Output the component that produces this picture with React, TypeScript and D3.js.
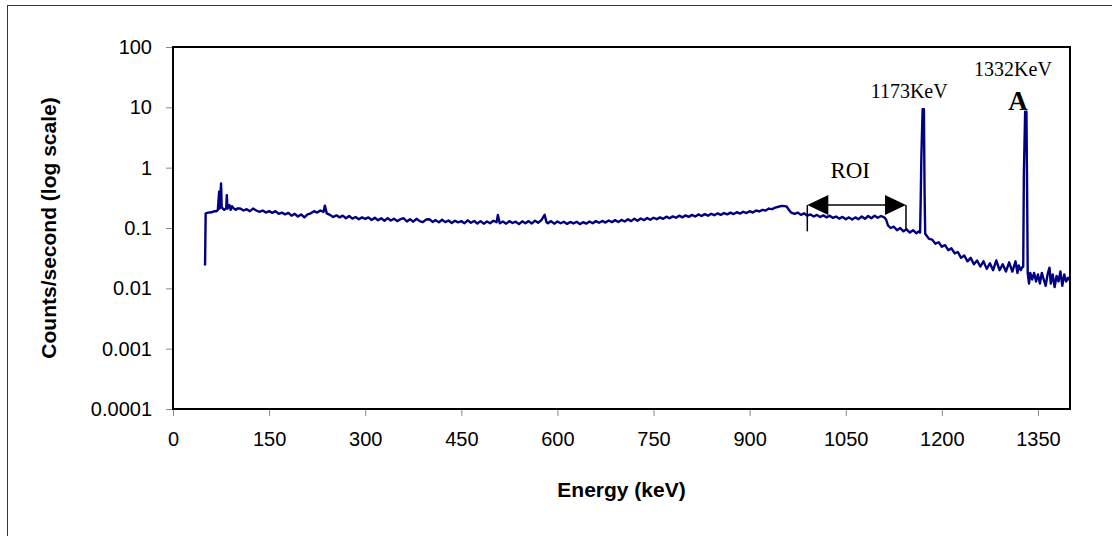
import React, { useRef, useEffect } from "react";
import * as d3 from "d3";

// energy (keV) of each spectrum point
const energy = [
  50, 51, 55, 60, 65, 68, 70, 72, 73, 75, 76, 78, 80, 83, 84, 85, 88, 90, 92, 95, 98, 100,
  105, 110, 115, 120, 125, 130, 135, 140, 145, 150, 155, 160, 165, 170, 175, 180, 185, 190, 195, 200,
  205, 210, 215, 220, 225, 230, 235, 237, 240, 245, 250, 255, 260, 265, 270, 275, 280, 285, 290, 295, 300,
  305, 310, 315, 320, 325, 330, 335, 340, 345, 350, 355, 360, 365, 370, 375, 380, 385, 390, 395, 400,
  405, 410, 415, 420, 425, 430, 435, 440, 445, 450, 455, 460, 465, 470, 475, 480, 485, 490, 495, 500,
  505, 507, 510, 515, 520, 525, 530, 535, 540, 545, 550, 555, 560, 565, 570, 575, 580, 583, 585, 590, 595, 600,
  605, 610, 615, 620, 625, 630, 635, 640, 645, 650, 655, 660, 665, 670, 675, 680, 685, 690, 695, 700,
  705, 710, 715, 720, 725, 730, 735, 740, 745, 750, 755, 760, 765, 770, 775, 780, 785, 790, 795, 800,
  805, 810, 815, 820, 825, 830, 835, 840, 845, 850, 855, 860, 865, 870, 875, 880, 885, 890, 895, 900,
  905, 910, 915, 920, 925, 930, 935, 940, 945, 950, 955, 958, 962, 965,
  970, 975, 980, 985, 990, 995, 1000, 1005, 1010, 1015, 1020, 1025, 1030, 1035, 1040, 1045, 1050,
  1055, 1060, 1065, 1070, 1075, 1080, 1085, 1090, 1095, 1100, 1105, 1110, 1113, 1116, 1120, 1125,
  1130, 1135, 1140, 1145, 1150, 1155, 1160, 1164, 1166, 1167, 1168, 1170, 1172, 1173, 1174, 1176, 1180,
  1185, 1190, 1195, 1200, 1205, 1210, 1215, 1220, 1225, 1230, 1235, 1240, 1245, 1250, 1255, 1260,
  1265, 1270, 1275, 1280, 1285, 1290, 1295, 1300, 1305, 1310, 1315, 1318, 1320, 1323, 1325, 1327,
  1328, 1330, 1332, 1333, 1334, 1336, 1338, 1341, 1344, 1347, 1350, 1353, 1356, 1359, 1362, 1365,
  1368, 1370, 1373, 1376, 1379, 1382, 1385, 1388, 1391, 1394, 1397, 1400
];

// counts per second at each energy
const counts = [
  0.024, 0.175, 0.18, 0.182, 0.19, 0.19, 0.2, 0.4, 0.21, 0.55, 0.22, 0.21, 0.2, 0.21, 0.35, 0.21, 0.24, 0.2, 0.23, 0.21, 0.2, 0.21,
  0.21, 0.195, 0.205, 0.19, 0.21, 0.195, 0.185, 0.195, 0.18, 0.19, 0.178, 0.19, 0.172, 0.18, 0.168, 0.178, 0.16, 0.172, 0.155, 0.168,
  0.15, 0.168, 0.175, 0.19, 0.18, 0.195, 0.185, 0.235, 0.175, 0.165, 0.152, 0.162, 0.15, 0.16, 0.145, 0.158, 0.143, 0.152, 0.14, 0.15, 0.142,
  0.15, 0.136, 0.148, 0.134, 0.145, 0.132, 0.146, 0.133, 0.142, 0.13, 0.14, 0.145, 0.128, 0.14, 0.127, 0.142, 0.13, 0.125, 0.138, 0.14,
  0.126, 0.135, 0.124, 0.137, 0.125, 0.133, 0.121, 0.132, 0.124, 0.13, 0.12, 0.134, 0.122, 0.131, 0.119, 0.13, 0.118, 0.128, 0.12, 0.132,
  0.125, 0.165, 0.12, 0.128, 0.118, 0.13, 0.121, 0.127, 0.116, 0.129, 0.12, 0.13, 0.119, 0.132, 0.122, 0.135, 0.165, 0.124, 0.12, 0.13, 0.118, 0.128,
  0.12, 0.127, 0.117, 0.126, 0.119, 0.127, 0.116, 0.125, 0.118, 0.128, 0.12, 0.13, 0.122, 0.131, 0.123, 0.133, 0.125, 0.135, 0.126, 0.136,
  0.128, 0.14, 0.13, 0.142, 0.132, 0.144, 0.135, 0.146, 0.137, 0.148, 0.14, 0.15, 0.142, 0.154, 0.145, 0.156, 0.148, 0.16, 0.15, 0.162,
  0.153, 0.165, 0.155, 0.168, 0.158, 0.17, 0.16, 0.172, 0.163, 0.175, 0.165, 0.177, 0.168, 0.18, 0.17, 0.183, 0.173, 0.186, 0.177, 0.19,
  0.18, 0.195, 0.188, 0.2, 0.195, 0.21, 0.205, 0.218, 0.225, 0.232, 0.23, 0.225, 0.195, 0.18,
  0.172, 0.18, 0.165, 0.175, 0.16, 0.168, 0.155, 0.165, 0.152, 0.162, 0.15, 0.16, 0.147, 0.155, 0.143, 0.153, 0.14,
  0.15, 0.138, 0.15, 0.14, 0.155, 0.142, 0.158, 0.145, 0.16, 0.148, 0.158, 0.15, 0.138, 0.11, 0.1, 0.105,
  0.092, 0.1, 0.088, 0.095, 0.084, 0.092, 0.082, 0.088, 0.084, 0.3, 1.5, 9.3, 9.3, 0.4, 0.08, 0.075, 0.066,
  0.064, 0.055, 0.058, 0.049, 0.052, 0.043, 0.046, 0.038, 0.04, 0.032, 0.035, 0.028, 0.032, 0.025, 0.029, 0.023,
  0.028, 0.021, 0.026, 0.02, 0.029, 0.02, 0.025, 0.019, 0.027, 0.019, 0.028, 0.018, 0.024, 0.02, 0.022, 0.023,
  0.8, 8.5, 8.5, 0.5, 0.018, 0.012, 0.018, 0.014, 0.018, 0.013, 0.017, 0.012, 0.018, 0.014, 0.011, 0.017,
  0.022, 0.012, 0.017, 0.0105, 0.016, 0.013, 0.019, 0.011, 0.017, 0.013, 0.015, 0.0135
];

const xTicks = [0, 150, 300, 450, 600, 750, 900, 1050, 1200, 1350];
const yTicks = [0.0001, 0.001, 0.01, 0.1, 1, 10, 100];
const yTickLabels = ["0.0001", "0.001", "0.01", "0.1", "1", "10", "100"];

// ROI bracket (keV) and peak labels
const roiRange = [990, 1144];
const peakLabels = [
  { text: "1173KeV", e: 1149, v: 14.3 },
  { text: "1332KeV", e: 1311, v: 33 },
];

const W = 1112;
const H = 536;
const margin = { top: 47, right: 42, bottom: 127, left: 173 };
const sans = "'Liberation Sans', Arial, sans-serif";
const serif = "'Liberation Serif', 'Times New Roman', serif";

function Spectrum() {
  const svgRef = useRef<SVGSVGElement>(null);

  useEffect(() => {
    const svg = d3.select(svgRef.current);
    svg.selectAll("*").remove();

    const x = d3.scaleLinear().domain([0, 1400]).range([margin.left, W - margin.right]);
    const y = d3.scaleLog().domain([0.0001, 100]).range([H - margin.bottom, margin.top]);

    // outer frame (runs off the right / bottom of the picture)
    svg.append("rect")
      .attr("x", 7.5).attr("y", 5.5)
      .attr("width", 1200).attr("height", 700)
      .attr("fill", "white")
      .attr("stroke", "#333").attr("stroke-width", 1);

    const xAxis = d3.axisBottom(x)
      .tickValues(xTicks)
      .tickFormat(d => String(d))
      .tickSize(7).tickSizeOuter(0).tickPadding(16);
    const gx = svg.append("g")
      .attr("transform", `translate(0,${H - margin.bottom})`)
      .call(xAxis);
    gx.select(".domain").remove();
    gx.selectAll("line").attr("stroke", "#888");
    gx.selectAll("text")
      .attr("font-family", sans)
      .attr("font-size", 20).attr("fill", "#000");

    const yAxis = d3.axisLeft(y)
      .tickValues(yTicks)
      .tickFormat((d, i) => yTickLabels[i])
      .tickSize(7).tickSizeOuter(0).tickPadding(14);
    const gy = svg.append("g")
      .attr("transform", `translate(${margin.left},0)`)
      .call(yAxis);
    gy.select(".domain").remove();
    gy.selectAll("line").attr("stroke", "#888");
    gy.selectAll("text")
      .attr("font-family", sans)
      .attr("font-size", 20).attr("fill", "#000");

    // plot area border
    svg.append("rect")
      .attr("x", margin.left).attr("y", margin.top)
      .attr("width", W - margin.right - margin.left)
      .attr("height", H - margin.bottom - margin.top)
      .attr("fill", "none").attr("stroke", "#000").attr("stroke-width", 2);

    // spectrum
    const n = Math.min(energy.length, counts.length);
    const pts: [number, number][] = d3.range(n).map(i => [energy[i], counts[i]]);
    const line = d3.line<[number, number]>()
      .x(d => x(d[0]))
      .y(d => y(d[1]));
    svg.append("path")
      .datum(pts)
      .attr("d", line)
      .attr("fill", "none")
      .attr("stroke", "#000080")
      .attr("stroke-width", 2.4)
      .attr("stroke-linejoin", "round");

    // ROI bracket
    const x0 = x(roiRange[0]), x1 = x(roiRange[1]);
    const ya = y(0.24);
    svg.append("line").attr("x1", x0).attr("x2", x0).attr("y1", ya).attr("y2", y(0.088))
      .attr("stroke", "#000").attr("stroke-width", 1.5);
    svg.append("line").attr("x1", x1).attr("x2", x1).attr("y1", ya).attr("y2", y(0.093))
      .attr("stroke", "#000").attr("stroke-width", 1.5);
    svg.append("line").attr("x1", x0 + 18).attr("x2", x1 - 18).attr("y1", ya).attr("y2", ya)
      .attr("stroke", "#000").attr("stroke-width", 1.5);
    svg.append("path")
      .attr("d", `M${x0},${ya} L${x0 + 21},${ya - 10} L${x0 + 21},${ya + 10} Z`)
      .attr("fill", "#000");
    svg.append("path")
      .attr("d", `M${x1},${ya} L${x1 - 21},${ya - 10} L${x1 - 21},${ya + 10} Z`)
      .attr("fill", "#000");
    svg.append("text")
      .attr("x", x(1057)).attr("y", y(0.67))
      .attr("text-anchor", "middle")
      .attr("font-family", serif)
      .attr("font-size", 23)
      .text("ROI");

    // peak labels
    peakLabels.forEach(p => {
      svg.append("text")
        .attr("x", x(p.e)).attr("y", y(p.v))
        .attr("text-anchor", "middle")
        .attr("font-family", serif)
        .attr("font-size", 20)
        .text(p.text);
    });
    svg.append("text")
      .attr("x", x(1319)).attr("y", y(9))
      .attr("text-anchor", "middle")
      .attr("font-family", serif)
      .attr("font-weight", "bold")
      .attr("font-size", 27)
      .text("A");

    // axis titles
    svg.append("text")
      .attr("x", (margin.left + W - margin.right) / 2).attr("y", 497)
      .attr("text-anchor", "middle")
      .attr("font-family", sans)
      .attr("font-weight", "bold").attr("font-size", 21)
      .text("Energy (keV)");
    svg.append("text")
      .attr("transform", `translate(56,${(margin.top + H - margin.bottom) / 2}) rotate(-90)`)
      .attr("text-anchor", "middle")
      .attr("font-family", sans)
      .attr("font-weight", "bold").attr("font-size", 21)
      .text("Counts/second (log scale)");
  }, []);

  return (
    <svg ref={svgRef} width={W} height={H}
      style={{ position: "absolute", left: 0, top: 0, display: "block" }} />
  );
}

export default function App() {
  return <Spectrum />;
}
